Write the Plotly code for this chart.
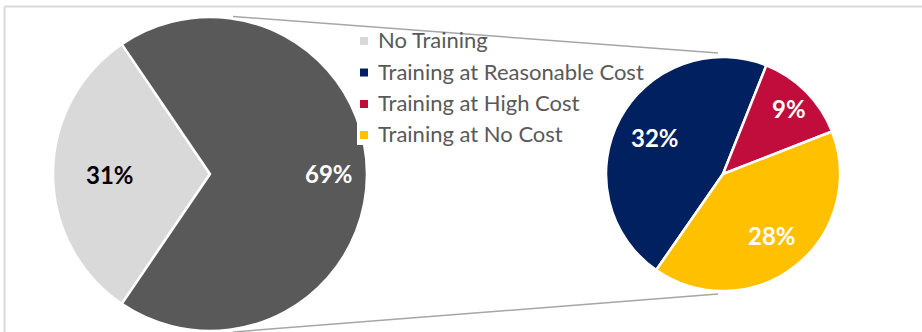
import math
import plotly.graph_objects as go

# Survey split: share with no training vs. the training breakdown
main_labels = ["No Training", "Training"]
main_values = [31, 69]
main_colors = ["#D9D9D9", "#595959"]
main_text_colors = ["#000000", "#FFFFFF"]
main_label_radius = [0.64, 0.76]   # label distance from centre, as a fraction of radius

detail_labels = ["Training at Reasonable Cost", "Training at High Cost", "Training at No Cost"]
detail_values = [32, 9, 28]
detail_colors = ["#002060", "#C00D3C", "#FFC000"]
detail_text_colors = ["#FFFFFF", "#FFFFFF", "#FFFFFF"]
detail_label_radius = [0.66, 0.79, 0.67]

legend_labels = ["No Training"] + detail_labels
legend_colors = ["#D9D9D9"] + detail_colors

W, H = 922, 332
FONT = "Lato"

# pie geometry in pixels: centre x, centre y, radius, start angle (clockwise from 12 o'clock)
MAIN_PIE = dict(cx=210, cy=174, r=157, rotation=214.2)
DETAIL_PIE = dict(cx=723, cy=174, r=117, rotation=214.8)


def px(x):
    return x / W


def py(y):
    return 1 - y / H


def pie_trace(labels, values, colors, geo):
    return go.Pie(
        labels=labels,
        values=values,
        textinfo="none",
        marker=dict(colors=colors, line=dict(color="#FFFFFF", width=2.5)),
        sort=False,
        direction="clockwise",
        rotation=geo["rotation"],
        domain=dict(x=[px(geo["cx"] - geo["r"]), px(geo["cx"] + geo["r"])],
                    y=[py(geo["cy"] + geo["r"]), py(geo["cy"] - geo["r"])]),
        showlegend=False,
        hoverinfo="label+value",
    )


def slice_labels(values, colors, fracs, geo):
    """Percent labels placed along each slice's bisector."""
    total = sum(values)
    start = geo["rotation"]
    out = []
    for v, c, f in zip(values, colors, fracs):
        span = 360.0 * v / total
        mid = math.radians(start + span / 2)
        x = geo["cx"] + f * geo["r"] * math.sin(mid)
        y = geo["cy"] - f * geo["r"] * math.cos(mid)
        out.append(dict(xref="paper", yref="paper", x=px(x), y=py(y),
                        xanchor="center", yanchor="middle", showarrow=False,
                        text=f"{v}%",
                        font=dict(family=FONT, size=24, color=c, weight="bold")))
        start += span
    return out


fig = go.Figure()
fig.add_trace(pie_trace(main_labels, main_values, main_colors, MAIN_PIE))
fig.add_trace(pie_trace(detail_labels, detail_values, detail_colors, DETAIL_PIE))

shapes = [
    # chart frame (top and left edges)
    dict(type="line", xref="paper", yref="paper", x0=px(4.5), x1=px(W), y0=py(6.5), y1=py(6.5),
         line=dict(color="#D9D9D9", width=2)),
    dict(type="line", xref="paper", yref="paper", x0=px(4.5), x1=px(4.5), y0=py(6.5), y1=py(H),
         line=dict(color="#D9D9D9", width=2)),
    # legend background
    dict(type="rect", xref="paper", yref="paper", x0=px(357), x1=px(600), y0=py(145), y1=py(24),
         fillcolor="#FFFFFF", line=dict(width=0), layer="above"),
    # connector lines between the two pies
    dict(type="line", xref="paper", yref="paper", x0=px(233), y0=py(16.5), x1=px(718), y1=py(53),
         line=dict(color="#A6A6A6", width=1.5), layer="above"),
    dict(type="line", xref="paper", yref="paper", x0=px(233), y0=py(332), x1=px(718), y1=py(294),
         line=dict(color="#A6A6A6", width=1.5), layer="above"),
]

annotations = []
annotations += slice_labels(main_values, main_text_colors, main_label_radius, MAIN_PIE)
annotations += slice_labels(detail_values, detail_text_colors, detail_label_radius, DETAIL_PIE)

row_y = [41, 72.5, 104, 135]
for lab, col, yc in zip(legend_labels, legend_colors, row_y):
    shapes.append(dict(type="rect", xref="paper", yref="paper",
                       x0=px(360), x1=px(368), y0=py(yc + 4), y1=py(yc - 4),
                       fillcolor=col, line=dict(width=0), layer="above"))
    annotations.append(dict(xref="paper", yref="paper", x=px(376), y=py(yc - 1.5),
                            xanchor="left", yanchor="middle", showarrow=False,
                            text=lab, font=dict(family=FONT, size=22, color="#595959")))

fig.update_layout(
    width=W, height=H,
    margin=dict(l=0, r=0, t=0, b=0),
    paper_bgcolor="#FFFFFF",
    plot_bgcolor="#FFFFFF",
    shapes=shapes,
    annotations=annotations,
)

fig.write_html("out.html")
